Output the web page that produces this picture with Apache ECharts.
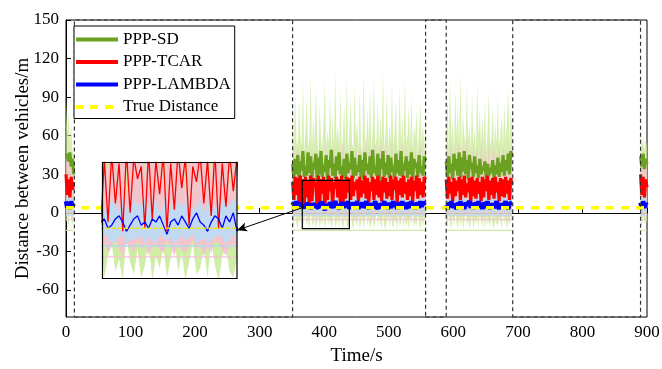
<!DOCTYPE html>
<html>
<head>
<meta charset="utf-8">
<script src="https://cdn.jsdelivr.net/npm/echarts@6/dist/echarts.min.js"></script>
<style>
  html, body { margin: 0; padding: 0; background: #fff; }
  #chart { width: 662px; height: 369px; }
</style>
</head>
<body>
<div id="chart"></div>
<script>
// sampling: each series is split in four recording segments, one value every 2 s
var segStart = [0, 351, 589, 890];
var step = 2;

// gaps with no data (dashed boxes)
var gaps = [[13, 351], [557, 589], [692, 890]];
var trueDist = 4;

// zoomed window shown in the inset
var zoomT = [366, 439];
var zoomV = [-12.3, 25.3];

// PPP-SD
var sdLine = [
  [46, 44, 40, 47, 36, 42, 30],
  [38, 27, 42, 30, 45, 26, 40, 33, 48, 28,
   36, 29, 47, 31, 44, 27, 39, 34, 46, 25,
   43, 30, 48, 28, 37, 32, 45, 26, 41, 35,
   49, 29, 38, 27, 44, 33, 47, 30, 36, 28,
   42, 26, 46, 31, 39, 34, 48, 27, 43, 29,
   37, 32, 45, 28, 41, 26, 47, 33, 38, 30,
   44, 27, 49, 31, 36, 29, 46, 25, 42, 34,
   48, 28, 39, 30, 45, 27, 43, 32, 37, 26,
   46, 31, 41, 29, 48, 28, 38, 33, 44, 27,
   40, 30, 47, 26, 42, 35, 39, 28, 45, 31,
   36, 29, 44, 41],
  [40, 28, 44, 31, 38, 26, 46, 33, 42, 29,
   47, 27, 43, 32, 48, 30, 41, 26, 45, 34,
   39, 28, 44, 31, 37, 27, 42, 30, 36, 33,
   40, 26, 38, 29, 35, 31, 41, 27, 37, 30,
   43, 28, 39, 32, 45, 29, 41, 33, 46, 30,
   48, 44],
  [44, 36, 46, 34, 42, 38]
];
var sdHi = [
  [90, 62, 78, 55, 70, 48, 45],
  [72, 50, 95, 55, 48, 88, 60, 52, 104, 47,
   66, 90, 51, 58, 108, 49, 75, 53, 98, 62,
   46, 85, 57, 50, 70, 102, 48, 64, 55, 92,
   50, 78, 47, 110, 56, 68, 52, 96, 49, 60,
   84, 51, 106, 47, 63, 89, 54, 50, 100, 58,
   72, 48, 94, 55, 46, 108, 61, 50, 82, 53,
   99, 47, 66, 104, 52, 58, 87, 49, 76, 55,
   110, 50, 62, 93, 48, 70, 54, 101, 51, 65,
   88, 47, 57, 97, 53, 74, 49, 105, 56, 60,
   83, 50, 92, 48, 68, 58, 79, 46, 63, 86,
   52, 70, 49, 75],
  [62, 90, 50, 104, 55, 72, 48, 96, 58, 85,
   51, 109, 47, 78, 60, 52, 99, 56, 70, 49,
   93, 53, 66, 48, 102, 57, 80, 50, 74, 55,
   88, 47, 64, 95, 52, 58, 83, 49, 71, 54,
   90, 48, 62, 76, 51, 86, 57, 68, 98, 53,
   80, 66],
  [66, 50, 60, 48, 56, 52]
];
var sdLo = [
  [-8, -2, -12, 0, -5, -10, -3],
  [-4, -11, 0, -8, -13, -2, -9, 2, -12, -5,
   -1, -10, -6, -13, 1, -7, -11, -3, -12, -8,
   0, -13, -5, -9, -2, -12, -6, 1, -10, -4,
   -13, -7, -1, -11, -9, -3, -12, 0, -8, -13,
   -5, -2, -10, -12, -6, 1, -9, -13, -4, -7,
   -11, -1, -12, -8, -3, -13, -6, 0, -10, -5,
   -12, -9, -2, -13, -7, 2, -11, -4, -8, -12,
   -1, -10, -13, -6, -3, -11, 0, -9, -12, -5,
   -7, -13, -2, -10, -8, 1, -12, -4, -11, -6,
   -13, -3, -9, -1, -12, -7, -10, 0, -8, -13,
   -5, -11, -3, -9],
  [-6, -12, -1, -9, -13, -3, -10, 0, -8, -12,
   -4, -11, -2, -13, -7, 1, -10, -5, -12, -8,
   -1, -13, -6, -9, -3, -12, 0, -7, -11, -4,
   -13, -2, -9, -6, -12, -1, -10, -13, -5, -8,
   -11, -3, -7, -12, 0, -9, -4, -13, -6, -10,
   -2, -8],
  [-6, -11, -3, -9, -5, -8]
];

// PPP-TCAR
var tcarLine = [
  [30, 14, 26, 12, 28, 18, 24],
  [24, 10, 28, 14, 27, 8, 29, 5, 26, 6,
   28, 12, 25, 3, 29, 9, 27, 20, 24, 4,
   29, 7, 26, 15, 28, 3, 25, 10, 29, 17,
   27, 5, 24, 19, 28, 12, 26, 8, 29, 4,
   25, 11, 28, 16, 27, 10, 29, 13, 24, 18,
   26, 9, 28, 12, 25, 15, 29, 11, 27, 8,
   24, 17, 28, 10, 26, 14, 29, 12, 25, 9,
   28, 16, 27, 11, 24, 13, 29, 10, 26, 18,
   28, 8, 25, 14, 27, 12, 29, 15, 24, 10,
   26, 13, 28, 9, 25, 17, 29, 11, 27, 14,
   24, 12, 28, 26],
  [26, 11, 28, 15, 24, 9, 27, 13, 25, 17,
   28, 10, 26, 14, 29, 12, 23, 16, 27, 8,
   28, 13, 25, 11, 27, 15, 24, 9, 28, 12,
   26, 17, 29, 10, 25, 14, 27, 11, 28, 16,
   24, 9, 27, 13, 26, 12, 28, 15, 25, 10,
   27, 22],
  [30, 14, 28, 12, 26, 20]
];
var tcarHi = [
  [45, 38, 50, 36, 42, 40, 35],
  [38, 52, 33, 45, 58, 36, 41, 55, 32, 18,
   60, 35, 43, 50, 12, 56, 39, 31, 53, 20,
   37, 58, 33, 48, 15, 35, 57, 40, 32, 51,
   10, 36, 59, 34, 43, 54, 38, 17, 49, 56,
   35, 44, 14, 33, 41, 52, 37, 47, 34, 58,
   39, 32, 55, 45, 36, 50, 42, 59, 33, 46,
   53, 38, 31, 57, 44, 35, 48, 40, 60, 34,
   42, 51, 36, 55, 33, 47, 39, 58, 32, 45,
   56, 37, 43, 50, 35, 59, 41, 33, 54, 38,
   46, 31, 57, 44, 36, 52, 40, 34, 49, 55,
   37, 43, 35, 48],
  [40, 54, 34, 47, 58, 36, 44, 52, 33, 49,
   57, 38, 42, 55, 35, 46, 60, 32, 50, 41,
   37, 56, 34, 45, 53, 39, 31, 59, 43, 36,
   51, 44, 35, 57, 40, 33, 48, 54, 38, 46,
   32, 58, 42, 37, 52, 45, 34, 55, 41, 49,
   36, 47],
  [42, 36, 45, 38, 40, 37]
];
var tcarLo = [
  [-3, 0, -4, 2, -2, -5, 0],
  [-3, -1, -4, -2, 0, -5, -2, -3, -1, -4,
   -2, 0, -3, -5, -1, -2, -4, 0, -3, -1,
   -5, -2, -1, -3, -4, 0, -2, -5, -1, -3,
   -4, -2, 0, -3, -1, -5, -2, -4, 0, -1,
   -3, -5, -2, -1, -4, -3, 0, -2, -5, -1,
   -4, -2, -3, 0, -1, -5, -3, -2, -4, 0,
   -1, -3, -5, -2, -4, -1, 0, -3, -2, -5,
   -1, -4, -2, 0, -3, -1, -5, -2, -4, -3,
   0, -2, -1, -4, -5, -3, -1, 0, -2, -4,
   -3, -5, -1, -2, 0, -4, -3, -1, -5, -2,
   -4, -1, -3, -2],
  [-2, -4, 0, -5, -1, -3, -5, -2, 0, -4,
   -3, -1, -5, -2, -4, 0, -3, -5, -1, -2,
   -4, -3, 0, -5, -2, -1, -4, -3, -5, 0,
   -2, -4, -1, -3, -5, -2, 0, -4, -1, -3,
   -5, -2, -4, 0, -3, -1, -5, -2, -4, -3,
   -1, -2],
  [-2, -4, -1, -3, -2, -4]
];

// PPP-LAMBDA
var lamLine = [
  [9, 4, 8, 3, 9, 5, 7],
  [6, 8, 4, 9, 5, 7, 8, 6, 7, 4,
   5, 7, 8, 6, 3, 5, 7, 8, 5, 6,
   4, 7, 6, 8, 5, 2, 6, 7, 5, 8,
   6, 4, 7, 9, 6, 5, 3, 6, 8, 7,
   4, 8, 6, 9, 3, 7, 5, 8, 4, 6,
   9, 3, 7, 5, 8, 4, 6, 9, 5, 3,
   7, 8, 4, 6, 9, 5, 3, 7, 8, 4,
   6, 9, 5, 7, 3, 8, 4, 6, 9, 5,
   7, 3, 8, 6, 4, 9, 5, 7, 3, 8,
   6, 4, 9, 5, 7, 3, 8, 6, 4, 9,
   5, 7, 6, 8],
  [6, 3, 8, 5, 9, 4, 7, 6, 3, 8,
   5, 9, 4, 7, 3, 8, 6, 5, 9, 4,
   7, 3, 8, 6, 4, 9, 5, 7, 3, 8,
   6, 4, 9, 5, 3, 7, 8, 4, 6, 9,
   5, 3, 7, 8, 4, 6, 9, 5, 3, 7,
   6, 8],
  [8, 3, 9, 4, 7, 6]
];
var lamHi = [
  [12, 13, 11, 12, 13, 12, 11],
  [12, 10, 13, 11, 14, 9, 12, 13, 10, 11,
   13, 12, 9, 14, 11, 10, 13, 12, 11, 14,
   10, 12, 13, 9, 11, 14, 12, 10, 13, 11,
   12, 14, 10, 11, 13, 9, 12, 14, 11, 10,
   13, 12, 11, 14, 10, 12, 9, 13, 11, 12,
   14, 10, 12, 13, 11, 9, 14, 12, 10, 13,
   11, 12, 14, 10, 13, 11, 9, 12, 14, 11,
   10, 13, 12, 11, 14, 10, 12, 13, 9, 11,
   14, 12, 10, 13, 11, 12, 14, 9, 11, 13,
   12, 10, 14, 11, 13, 12, 9, 11, 14, 10,
   12, 13, 11, 12],
  [11, 13, 10, 12, 14, 11, 9, 13, 12, 10,
   14, 11, 12, 13, 10, 12, 14, 9, 11, 13,
   12, 10, 14, 11, 13, 12, 9, 11, 14, 10,
   12, 13, 11, 14, 10, 12, 13, 9, 11, 14,
   12, 10, 13, 11, 12, 14, 10, 13, 11, 12,
   13, 11],
  [12, 11, 13, 12, 11, 12]
];
var lamLo = [
  [1, 0, 2, -1, 1, 0, 2],
  [0, 1, -1, 2, 0, 1, -1, 0, 2, 1,
   -1, 0, 1, 2, -1, 0, 1, 0, 2, -1,
   1, 0, -1, 2, 1, 0, 1, -1, 0, 2,
   0, 1, 2, -1, 0, 1, -1, 0, 1, 2,
   1, -1, 0, 2, 0, 1, -1, 1, 0, 2,
   -1, 0, 1, 0, 2, 1, -1, 0, 1, -1,
   2, 0, 1, -1, 0, 2, 1, 0, -1, 1,
   0, 2, -1, 1, 0, 1, 2, 0, -1, 1,
   2, 0, 1, -1, 0, 1, 2, -1, 0, 1,
   -1, 2, 0, 1, 0, -1, 1, 2, 0, 1,
   -1, 0, 1, 0],
  [1, 0, 2, -1, 0, 1, -1, 2, 0, 1,
   -1, 0, 2, 1, 0, -1, 1, 2, 0, -1,
   1, 0, 2, -1, 1, 0, -1, 2, 0, 1,
   0, -1, 1, 2, 0, 1, -1, 0, 2, 1,
   -1, 0, 1, 2, 0, -1, 1, 0, 2, 1,
   0, 1],
  [0, 1, -1, 1, 0, 1]
];

// lower limit lines
var sdFloor = -13.6;
var tcarFloor = -5.3;
var lamFloor = -1.8;

var GREEN = '#6aa121', RED = '#ff0000', BLUE = '#0000ff', YELLOW = '#ffff00';
var FONT = 'Liberation Serif';

function pairs(segs) {
  var out = [];
  segs.forEach(function (seg, k) {
    seg.forEach(function (v, i) { out.push([segStart[k] + i * step, v]); });
    out.push([segStart[k] + seg.length * step, '-']);
  });
  return out;
}

function floorPairs(v) {
  var out = [];
  sdLine.forEach(function (seg, k) {
    out.push([segStart[k], v], [segStart[k] + (seg.length - 1) * step, v], [segStart[k] + seg.length * step, '-']);
  });
  return out;
}

function band(name, lo, hi, color, ax, z) {
  return {
    name: name, type: 'custom', xAxisIndex: ax, yAxisIndex: ax, z: z, silent: true, clip: true,
    data: segStart.map(function (s) { return [s, 0]; }),
    renderItem: function (params, api) {
      var k = params.dataIndex;
      var n = Math.min(lo[k].length, hi[k].length);
      var top = [], bot = [];
      for (var i = 0; i < n; i++) {
        var t = segStart[k] + i * step;
        top.push(api.coord([t, hi[k][i]]));
        bot.unshift(api.coord([t, lo[k][i]]));
      }
      var cs = params.coordSys;
      return {
        type: 'polygon',
        shape: { points: top.concat(bot) },
        style: { fill: color },
        clipPath: { type: 'rect', shape: { x: cs.x, y: cs.y, width: cs.width, height: cs.height } }
      };
    }
  };
}

function line(name, data, color, width, ax, z, dash) {
  return {
    name: name, type: 'line', xAxisIndex: ax, yAxisIndex: ax, z: z,
    data: data, symbol: 'none', showSymbol: false, clip: true, silent: true,
    connectNulls: false,
    itemStyle: { color: color },
    lineStyle: { color: color, width: width, type: dash || 'solid', cap: 'butt', join: 'bevel' }
  };
}

var chart = echarts.init(document.getElementById('chart'), null, { renderer: 'canvas' });

var series = [];
// main plot
series.push(band('sdBand', sdLo, sdHi, 'rgba(200,234,150,0.75)', 0, 2));
series.push(band('tcarBand', tcarLo, tcarHi, 'rgba(245,192,210,0.7)', 0, 2));
series.push(band('lamBand', lamLo, lamHi, 'rgba(190,218,242,0.8)', 0, 2));
series.push(line('sdFloor', floorPairs(sdFloor), '#cfeaa8', 1.2, 0, 2));
series.push(line('tcarFloor', floorPairs(tcarFloor), '#f2c4d4', 1.2, 0, 2));
series.push(line('lamFloor', floorPairs(lamFloor), '#b4e0f2', 1.2, 0, 2));

var sdMain = line('PPP-SD', pairs(sdLine), GREEN, 3.2, 0, 2);
sdMain.markArea = {
  silent: true, z: 3,
  itemStyle: { color: 'rgba(0,0,0,0)', borderColor: '#333', borderWidth: 1.2, borderType: [4, 3] },
  data: gaps.map(function (g) { return [{ xAxis: g[0] }, { xAxis: g[1] }]; })
};
series.push(sdMain);
series.push(line('PPP-TCAR', pairs(tcarLine), RED, 3.2, 0, 2));
series.push(line('PPP-LAMBDA', pairs(lamLine), BLUE, 4.5, 0, 2));

var tdMain = line('True Distance', [[0, trueDist], [900, trueDist]], YELLOW, 3.5, 0, 2, [8, 7]);
tdMain.markArea = {
  silent: true, z: 6,
  itemStyle: { color: 'rgba(0,0,0,0)', borderColor: '#000', borderWidth: 1.2 },
  data: [[{ coord: [zoomT[0], zoomV[0]] }, { coord: [zoomT[1], zoomV[1]] }]]
};
tdMain.markLine = {
  silent: true, z: 6, symbol: ['none', 'arrow'], symbolSize: [7, 10],
  label: { show: false },
  lineStyle: { color: '#000', width: 1, type: 'solid' },
  data: [[{ coord: [zoomT[0], trueDist] }, { coord: [265, -13.5] }]]
};
series.push(tdMain);

// inset
var cover = line('insetFloor', floorPairs(lamFloor), '#a8dcf0', 1.2, 1, 4);
cover.markArea = {
  silent: true, z: 3,
  itemStyle: { color: '#fff', borderWidth: 0 },
  data: [[{ xAxis: zoomT[0] }, { xAxis: zoomT[1] }]]
};
series.push(band('sdBandI', sdLo, sdHi, 'rgba(200,234,150,0.85)', 1, 4));
series.push(band('tcarBandI', tcarLo, tcarHi, 'rgba(245,192,210,0.9)', 1, 4));
series.push(band('lamBandI', lamLo, lamHi, 'rgba(190,218,242,0.95)', 1, 4));
series.push(cover);
series.push(line('insetFloor2', floorPairs(tcarFloor), '#f2c4d4', 1.2, 1, 4));
series.push(line('sdI', pairs(sdLine), GREEN, 1.2, 1, 4));
series.push(line('tcarI', pairs(tcarLine), RED, 1.3, 1, 4));
series.push(line('lamI', pairs(lamLine), BLUE, 1.3, 1, 4));
series.push(line('tdI', [[0, trueDist], [900, trueDist]], '#f2e600', 1.5, 1, 4, [4, 2]));

var yTicks = [-60, -30, 0, 30, 60, 90, 120, 150];

var option = {
  animation: false,
  backgroundColor: '#fff',
  legend: {
    orient: 'vertical', left: 74, top: 26,
    padding: [5, 4, 3, 2],
    itemWidth: 42, itemHeight: 14, itemGap: 5.5,
    backgroundColor: '#fff', borderColor: '#000', borderWidth: 1, borderRadius: 0,
    textStyle: { fontFamily: FONT, fontSize: 17, lineHeight: 17, color: '#000' },
    selectedMode: false,
    data: [
      { name: 'PPP-SD', icon: 'path://M0,0h42v4h-42z' },
      { name: 'PPP-TCAR', icon: 'path://M0,0h42v4h-42z' },
      { name: 'PPP-LAMBDA', icon: 'path://M0,0h42v4h-42z' },
      { name: 'True Distance', icon: 'path://M0,0h8v4h-8z M14,0h8v4h-8z M29,0h8v4h-8z M42,0h0v4h0z' }
    ]
  },
  grid: [
    { left: 66, top: 20, right: 15, bottom: 52, show: true, borderColor: '#000', borderWidth: 1,
      backgroundColor: 'rgba(0,0,0,0)', outerBoundsMode: 'none', containLabel: false },
    { left: 102.5, top: 162.5, width: 134.5, height: 116, show: true, z: 10,
      borderColor: '#000', borderWidth: 1.2, backgroundColor: 'rgba(0,0,0,0)',
      outerBoundsMode: 'none', containLabel: false }
  ],
  xAxis: [
    {
      type: 'value', gridIndex: 0, min: 0, max: 900, interval: 100,
      name: 'Time/s', nameLocation: 'middle', nameGap: 30, nameMoveOverlap: false,
      nameTextStyle: { fontFamily: FONT, fontSize: 19, color: '#000' },
      axisLine: { show: true, lineStyle: { color: '#000', width: 1 } },
      axisTick: { show: true, inside: true, length: 5, lineStyle: { color: '#000' } },
      axisLabel: { fontFamily: FONT, fontSize: 17, color: '#000', margin: 7 },
      splitLine: { show: false }
    },
    { type: 'value', gridIndex: 1, min: zoomT[0], max: zoomT[1], show: false }
  ],
  yAxis: [
    {
      type: 'value', gridIndex: 0, min: -81, max: 150,
      name: 'Distance between vehicles/m', nameLocation: 'middle', nameGap: 33, nameMoveOverlap: false,
      nameTextStyle: { fontFamily: FONT, fontSize: 19, color: '#000' },
      axisLine: { show: true, lineStyle: { color: '#000', width: 1 } },
      axisTick: { show: true, inside: true, length: 5, customValues: yTicks, lineStyle: { color: '#000' } },
      axisLabel: { fontFamily: FONT, fontSize: 17, color: '#000', margin: 7, customValues: yTicks },
      splitLine: { show: false }
    },
    { type: 'value', gridIndex: 1, min: zoomV[0], max: zoomV[1], show: false }
  ],
  series: series
};

chart.setOption(option);
</script>
</body>
</html>
